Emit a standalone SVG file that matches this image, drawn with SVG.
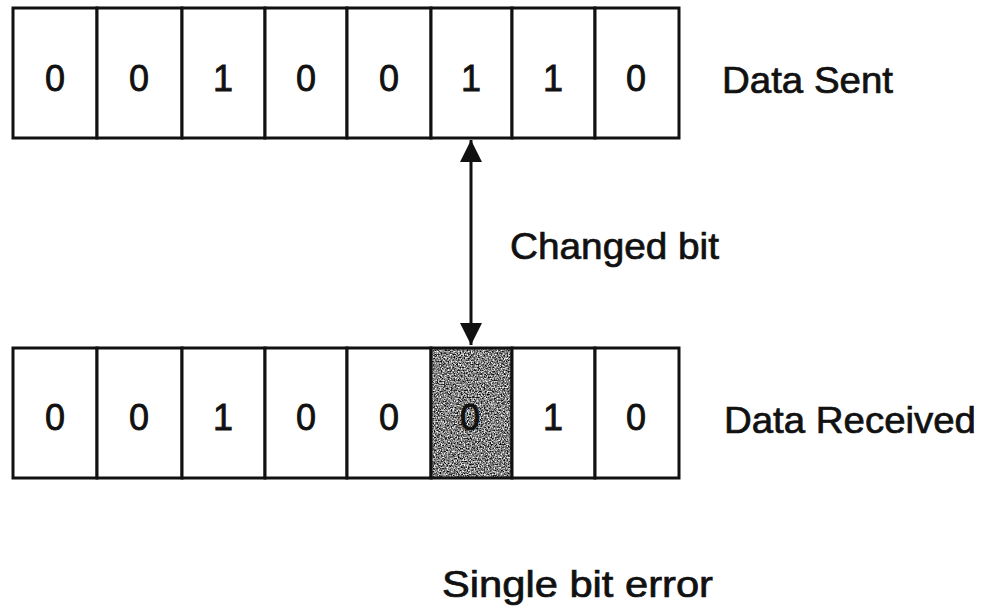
<svg xmlns="http://www.w3.org/2000/svg" width="984" height="610" viewBox="0 0 984 610">
<style>
.cell{fill:#fff;stroke:#111;stroke-width:3}
.bit{font-family:"Liberation Sans",Arial,sans-serif;font-size:36px;fill:#111;stroke:#111;stroke-width:0.8;text-anchor:middle}
.lbl{font-family:"Liberation Sans",Arial,sans-serif;font-size:36px;fill:#111;stroke:#111;stroke-width:0.7}
.conn{stroke:#111;stroke-width:3;fill:none}
</style>
<defs>
<filter id="grain" x="0" y="0" width="1" height="1" color-interpolation-filters="sRGB">
<feTurbulence type="fractalNoise" baseFrequency="0.7" numOctaves="2" seed="7" result="n"/>
<feColorMatrix in="n" type="matrix" values="1 0 0 0 0  1 0 0 0 0  1 0 0 0 0  0 0 0 0 1" result="g"/>
<feComponentTransfer in="g">
<feFuncR type="linear" slope="2" intercept="-0.5"/>
<feFuncG type="linear" slope="2" intercept="-0.5"/>
<feFuncB type="linear" slope="2" intercept="-0.5"/>
</feComponentTransfer>
</filter>
<marker id="ah" viewBox="0 0 22 22" refX="22" refY="11" markerUnits="userSpaceOnUse" markerWidth="22" markerHeight="22" orient="auto">
<path d="M0,0 L22,11 L0,22 Z" fill="#111"/>
</marker>
</defs>

<g id="sent-row">
<g id="s0"><rect class="cell" x="13" y="8" width="84" height="130"/><text class="bit" x="55" y="91">0</text></g>
<g id="s1"><rect class="cell" x="97" y="8" width="85" height="130"/><text class="bit" x="139" y="91">0</text></g>
<g id="s2"><rect class="cell" x="182" y="8" width="83" height="130"/><text class="bit" x="223" y="91">1</text></g>
<g id="s3"><rect class="cell" x="265" y="8" width="82" height="130"/><text class="bit" x="306" y="91">0</text></g>
<g id="s4"><rect class="cell" x="347" y="8" width="84" height="130"/><text class="bit" x="389" y="91">0</text></g>
<g id="s5"><rect class="cell" x="431" y="8" width="81" height="130"/><text class="bit" x="471" y="91">1</text></g>
<g id="s6"><rect class="cell" x="512" y="8" width="83" height="130"/><text class="bit" x="553" y="91">1</text></g>
<g id="s7"><rect class="cell" x="595" y="8" width="84" height="130"/><text class="bit" x="636" y="91">0</text></g>
</g>
<g id="label-sent"><text class="lbl" x="722" y="93" textLength="171" lengthAdjust="spacingAndGlyphs">Data Sent</text></g>

<g id="received-row">
<g id="r0"><rect class="cell" x="13" y="348" width="84" height="130"/><text class="bit" x="55" y="430">0</text></g>
<g id="r1"><rect class="cell" x="97" y="348" width="85" height="130"/><text class="bit" x="139" y="430">0</text></g>
<g id="r2"><rect class="cell" x="182" y="348" width="83" height="130"/><text class="bit" x="223" y="430">1</text></g>
<g id="r3"><rect class="cell" x="265" y="348" width="82" height="130"/><text class="bit" x="306" y="430">0</text></g>
<g id="r4"><rect class="cell" x="347" y="348" width="84" height="130"/><text class="bit" x="389" y="430">0</text></g>
<g id="r5"><rect x="431" y="348" width="81" height="130" fill="#808080"/><rect x="431" y="348" width="81" height="130" fill="#808080" filter="url(#grain)"/><rect x="431" y="348" width="81" height="130" fill="none" stroke="#111" stroke-width="3"/><text class="bit" x="470" y="430">0</text></g>
<g id="r6"><rect class="cell" x="512" y="348" width="83" height="130"/><text class="bit" x="553" y="430">1</text></g>
<g id="r7"><rect class="cell" x="595" y="348" width="84" height="130"/><text class="bit" x="636" y="430">0</text></g>
</g>
<g id="label-received"><text class="lbl" x="724" y="433" textLength="252" lengthAdjust="spacingAndGlyphs">Data Received</text></g>

<g id="connectors">
<line class="conn" x1="471" y1="240" x2="471" y2="140" marker-end="url(#ah)"/>
<line class="conn" x1="471" y1="240" x2="471" y2="345" marker-end="url(#ah)"/>
</g>
<g id="label-changed"><text class="lbl" x="510" y="259" textLength="209" lengthAdjust="spacingAndGlyphs">Changed bit</text></g>

<g id="caption"><text class="lbl" x="442" y="597" font-size="37" textLength="271" lengthAdjust="spacingAndGlyphs">Single bit error</text></g>
</svg>
